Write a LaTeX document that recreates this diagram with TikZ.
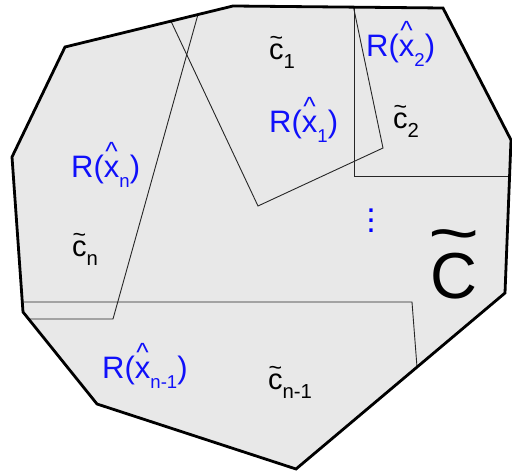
\documentclass[tikz,border=0pt]{standalone}
\usepackage{fontspec}
\setmainfont{Liberation Sans}
\usepackage{graphicx}
\usetikzlibrary{calc}
\definecolor{regionGray}{HTML}{E8E8E8}
\definecolor{labelBlue}{HTML}{1010FA}
\newcommand{\hatx}{\ooalign{x\cr\hidewidth\raisebox{0.58em}{\scalebox{0.85}{\textasciicircum}}\hidewidth\cr}}
\newcommand{\tildec}{\ooalign{c\cr\hidewidth\raisebox{0.5em}{\scalebox{0.8}{\textasciitilde}}\hidewidth\cr}}
\newcommand{\lowidx}[2][0.6]{\raisebox{-0.3em}{\scalebox{#1}{#2}}}

\begin{document}
\begin{tikzpicture}[x=1pt, y=-1pt,
    hull/.style={draw=black, line width=2.8pt},
    cut/.style={draw=black!85, line width=0.9pt},
    rlab/.style={anchor=base west, inner sep=0pt, text=labelBlue, font=\fontsize{31}{33}\selectfont},
    clab/.style={anchor=base west, inner sep=0pt, text=black, font=\fontsize{29}{31}\selectfont}
  ]
  \useasboundingbox (0,0) rectangle (512,473);
  % outer set
  \coordinate (h1) at (65,47);
  \coordinate (h2) at (233,6);
  \coordinate (h3) at (443,8);
  \coordinate (h4) at (511,140);
  \coordinate (h5) at (505,293);
  \coordinate (h6) at (296,469);
  \coordinate (h7) at (97,404);
  \coordinate (h8) at (23,312);
  \coordinate (h9) at (12,157);
  \path[fill=regionGray] (h1) -- (h2) -- (h3) -- (h4) -- (h5) -- (h6) -- (h7) -- (h8) -- (h9) -- cycle;

  % regions R(x_i)
  \begin{scope}
    \clip (h1) -- (h2) -- (h3) -- (h4) -- (h5) -- (h6) -- (h7) -- (h8) -- (h9) -- cycle;
    \draw[cut] (202,0) -- (113,319) -- (0,319);
    \draw[cut] (161,0) -- (258,206) -- (383,148) -- (352,0);
    \draw[cut] (354,0) -- (354,176) -- (520,176);
    \draw[cut] (0,302) -- (412,302) -- (418,380);
  \end{scope}
  \draw[hull] (h1) -- (h2) -- (h3) -- (h4) -- (h5) -- (h6) -- (h7) -- (h8) -- (h9) -- cycle;

  % labels
  \node[clab] (c1) at (269,60) {\tildec\lowidx[0.7]{1}};
  \node[rlab] (r2) at (366,57) {R(\hatx\lowidx{2})};
  \node[rlab] (r1) at (269,133) {R(\hatx\lowidx{1})};
  \node[clab] (c2) at (393,129) {\tildec\lowidx[0.7]{2}};
  \node[rlab] (rn) at (71,178) {R(\hatx\lowidx{n})};
  \node[clab] (cn) at (72,257) {\tildec\lowidx[0.7]{n}};
  \node[rlab] (rm) at (102,379) {R(\hatx\lowidx{n-1})};
  \node[clab] (cm) at (268,390) {\tildec\lowidx[0.7]{n-1}};
  \node[anchor=base, text=blue, inner sep=0pt, font=\fontsize{34}{10}\selectfont] (dots) at (371,233)
    {\vbox{\baselineskip=10pt\hbox{.}\hbox{.}\hbox{.}}};
  \node[anchor=base west, inner sep=0pt, font=\fontsize{65}{65}\selectfont] (bigC) at (430,299)
    {\ooalign{C\cr\hidewidth\raisebox{0.66em}{\scalebox{1.35}[1.05]{\textasciitilde}}\hidewidth\cr}};
\end{tikzpicture}
\end{document}
